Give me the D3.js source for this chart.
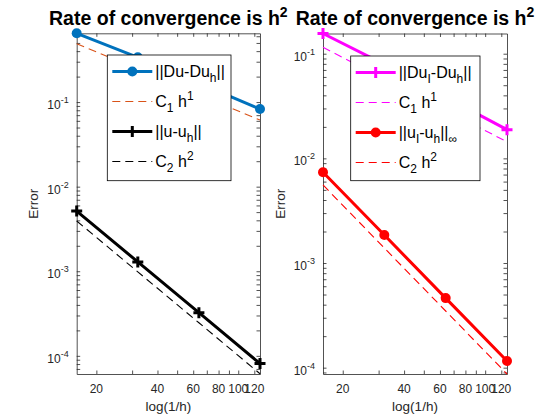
<!DOCTYPE html>
<html><head><meta charset="utf-8">
<script src="https://cdn.jsdelivr.net/npm/d3@7"></script>
<style>html,body{margin:0;padding:0;background:#fff}svg{display:block}</style>
</head><body><svg id="chart" width="560" height="420"></svg>
<script>
// ---- data ----
const N = [16, 32, 64, 128];
const errDu  = [0.65, 0.338, 0.167, 0.0827];
const refC1a = [0.49, 0.245, 0.1225, 0.0613];
const errU   = [0.00515, 0.00129, 0.000324, 0.0000810];
const refC2a = [0.00393, 0.000983, 0.000246, 0.0000614];
const errDuI = [0.156, 0.079, 0.0385, 0.0188];
const refC1b = [0.115, 0.0575, 0.0288, 0.0144];
const errUI  = [0.00738, 0.00185, 0.000462, 0.000116];
const refC2b = [0.00557, 0.00139, 0.000348, 0.0000870];
const xTickLabels = [20, 40, 60, 80, 100, 120];
const xMinor = [20, 30, 40, 50, 60, 70, 80, 90, 100];
const yDecades = [1e-4, 1e-3, 1e-2, 1e-1];
const yDecadeExp = ["-4", "-3", "-2", "-1"];
const titleText = "Rate of convergence is h";
const xLabel = "log(1/h)";
const yLabel = "Error";

const svg = d3.select("#chart");
const FONT = "'Liberation Sans', Arial, Helvetica, sans-serif";
const AX = "#262626";

function panel(opt) {
  const {x0, x1, y0, y1, ydom, series, legend} = opt;
  const x = d3.scaleLog().domain([16, 128]).range([x0, x1]);
  const y = d3.scaleLog().domain(ydom).range([y1, y0]);
  const g = svg.append("g");
  const yAll = [];
  for (let e = -5; e <= 0; e++) for (let m = 1; m <= 9; m++) {
    const v = m * Math.pow(10, e);
    if (v >= ydom[0] && v <= ydom[1]) yAll.push(v);
  }
  const xAll = Array.from(new Set(xMinor.concat(xTickLabels))).sort((a,b)=>a-b);
  const tl = 3.5;
  const mk = (axis, tr) => {
    const a = g.append("g").attr("transform", tr).call(axis);
    a.select(".domain").attr("stroke", AX).attr("stroke-width", 0.8);
    a.selectAll(".tick line").attr("stroke", AX).attr("stroke-width", 0.8);
    a.selectAll("text").remove();
    return a;
  };
  mk(d3.axisLeft(y).tickValues(yAll).tickSize(-tl).tickSizeOuter(0).tickFormat(""), `translate(${x0},0)`);
  mk(d3.axisRight(y).tickValues(yAll).tickSize(-tl).tickSizeOuter(0).tickFormat(""), `translate(${x1},0)`);
  mk(d3.axisBottom(x).tickValues(xAll).tickSize(-tl).tickSizeOuter(0).tickFormat(""), `translate(0,${y1})`);
  mk(d3.axisTop(x).tickValues(xAll).tickSize(-tl).tickSizeOuter(0).tickFormat(""), `translate(0,${y0})`);

  g.selectAll(".xl").data(xTickLabels).enter().append("text")
    .attr("x", d => x(d)).attr("y", y1 + 18.5)
    .attr("text-anchor", "middle").attr("font-family", FONT).attr("font-size", 12)
    .attr("fill", AX).text(d => d);
  yDecades.forEach((v, i) => {
    if (v < ydom[0] || v > ydom[1]) return;
    const t = g.append("text").attr("x", x0 - 8).attr("y", y(v) + 7)
      .attr("text-anchor", "end").attr("font-family", FONT).attr("font-size", 12).attr("fill", AX);
    t.append("tspan").text("10");
    t.append("tspan").attr("dy", -6).attr("font-size", 9).text(yDecadeExp[i]);
  });
  g.append("text").attr("x", (x0 + x1) / 2).attr("y", 411)
    .attr("text-anchor", "middle").attr("font-family", FONT).attr("font-size", 13.5)
    .attr("fill", AX).text(xLabel);
  g.append("text").attr("transform", `translate(${x0 - 38.5},${(y0 + y1) / 2}) rotate(-90)`)
    .attr("text-anchor", "middle").attr("font-family", FONT).attr("font-size", 13.5)
    .attr("fill", AX).text(yLabel);
  const tt = g.append("text").attr("x", (x0 + x1) / 2).attr("y", 25)
    .attr("text-anchor", "middle").attr("font-family", FONT).attr("font-size", 19.5)
    .attr("font-weight", "bold").attr("fill", "#000");
  tt.append("tspan").text(titleText);
  tt.append("tspan").attr("dy", -8).attr("font-size", 14).text("2");

  const line = d3.line().x((d, i) => x(N[i])).y(d => y(d));
  const drawMarker = (sel, kind, color, cx, cy) => {
    if (kind === "dot") {
      sel.append("circle").attr("cx", cx).attr("cy", cy).attr("r", 5).attr("fill", color);
    } else if (kind === "plus") {
      const s = 5.5;
      sel.append("path").attr("d", `M${cx - s},${cy}H${cx + s}M${cx},${cy - s}V${cy + s}`)
        .attr("stroke", color).attr("stroke-width", 3).attr("fill", "none");
    }
  };
  series.forEach(s => {
    const p = g.append("path").datum(s.values).attr("d", line)
      .attr("fill", "none").attr("stroke", s.color).attr("stroke-width", s.dash ? 1.1 : 3);
    if (s.dash) p.attr("stroke-dasharray", "8,5");
    if (s.marker) s.values.forEach((v, i) => drawMarker(g, s.marker, s.color, x(N[i]), y(v)));
  });

  const L = legend;
  g.append("rect").attr("x", L.x).attr("y", L.y).attr("width", L.w).attr("height", L.h)
    .attr("fill", "#fff").attr("stroke", "#000").attr("stroke-width", 0.8);
  series.forEach((s, i) => {
    const cy = L.y + 16.5 + i * 30;
    const lx0 = L.x + 5, lx1 = L.x + 45;
    const p = g.append("line").attr("x1", lx0).attr("x2", lx1).attr("y1", cy).attr("y2", cy)
      .attr("stroke", s.color).attr("stroke-width", s.dash ? 1.1 : 3);
    if (s.dash) p.attr("stroke-dasharray", "8,5");
    if (s.marker) drawMarker(g, s.marker, s.color, (lx0 + lx1) / 2, cy);
    const t = g.append("text").attr("x", L.x + 48).attr("y", cy + 5.5)
      .attr("font-family", FONT).attr("font-size", 16).attr("fill", "#000");
    s.label.forEach(part => {
      const ts = t.append("tspan").text(part.t);
      if (part.sub) ts.attr("dy", 5).attr("font-size", 12);
      else if (part.sup) ts.attr("dy", -7).attr("font-size", 12);
      if (part.back) ts.attr("dy", part.back);
    });
  });
}

panel({
  x0: 76.7, x1: 260, y0: 33.3, y1: 374, ydom: [6.1e-5, 0.65],
  series: [
    {values: errDu, color: "#0072BD", marker: "dot", dash: false,
     label: [{t: "||Du-Du"}, {t: "h", sub: true}, {t: "||", back: -5}]},
    {values: refC1a, color: "#D95319", dash: true,
     label: [{t: "C"}, {t: "1", sub: true}, {t: " h", back: -5}, {t: "1", sup: true}]},
    {values: errU, color: "#000000", marker: "plus", dash: false,
     label: [{t: "||u-u"}, {t: "h", sub: true}, {t: "||", back: -5}]},
    {values: refC2a, color: "#000000", dash: true,
     label: [{t: "C"}, {t: "2", sub: true}, {t: " h", back: -5}, {t: "2", sup: true}]}
  ],
  legend: {x: 107.3, y: 55, w: 123.7, h: 125.7}
});

panel({
  x0: 323, x1: 507, y0: 33.5, y1: 374, ydom: [8.7e-5, 0.156],
  series: [
    {values: errDuI, color: "#FF00FF", marker: "plus", dash: false,
     label: [{t: "||Du"}, {t: "I", sub: true}, {t: "-Du", back: -5}, {t: "h", sub: true}, {t: "||", back: -5}]},
    {values: refC1b, color: "#FF00FF", dash: true,
     label: [{t: "C"}, {t: "1", sub: true}, {t: " h", back: -5}, {t: "1", sup: true}]},
    {values: errUI, color: "#FF0000", marker: "dot", dash: false,
     label: [{t: "||u"}, {t: "I", sub: true}, {t: "-u", back: -5}, {t: "h", sub: true}, {t: "||", back: -5}, {t: "∞", sub: true}]},
    {values: refC2b, color: "#FF0000", dash: true,
     label: [{t: "C"}, {t: "2", sub: true}, {t: " h", back: -5}, {t: "2", sup: true}]}
  ],
  legend: {x: 350.7, y: 56, w: 129.3, h: 124.7}
});
</script></body></html>
